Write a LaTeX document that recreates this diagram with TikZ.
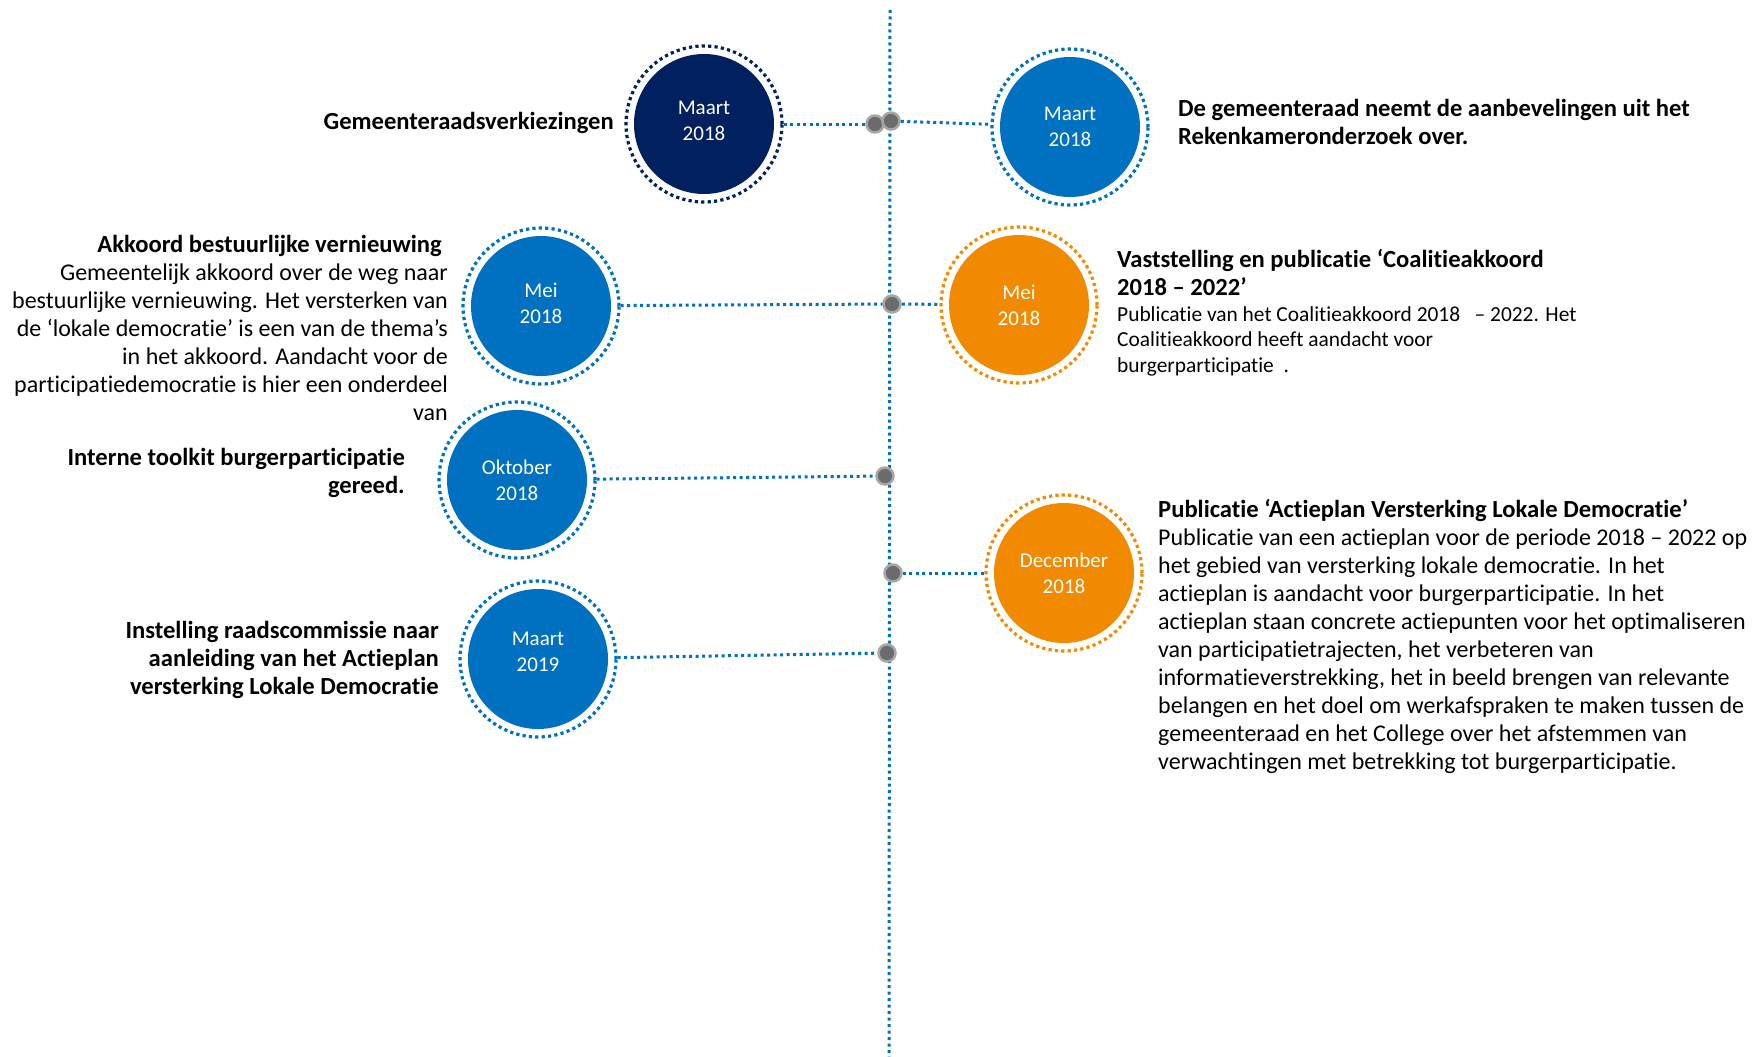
\documentclass[tikz,border=0pt]{standalone}
\usepackage{fontspec}
\setmainfont{Carlito}[Ligatures=NoCommon]
\definecolor{navy}{HTML}{002060}
\definecolor{mblue}{HTML}{0070C0}
\definecolor{morange}{HTML}{F18A00}
\definecolor{knotgray}{HTML}{6B6B6B}
\definecolor{knotring}{HTML}{A6A6A6}
\tikzset{every node/.style={font=\fontsize{24}{28}\selectfont},line join=round}
\tikzset{
  event/.style={circle,draw=#1,line width=3.2,dash pattern=on 3.2 off 3.2,
    minimum size=156,inner sep=0,text=white,align=center,
    font=\fontsize{21}{26}\selectfont,
    path picture={\fill[#1] (path picture bounding box.center) circle (70pt);}},
  knot/.style={circle,fill=knotgray,draw=knotring,line width=2.5,minimum size=17,inner sep=0},
  link/.style={draw=mblue,line width=3,dash pattern=on 3 off 3.5},
  heading/.style={font=\bfseries\fontsize{24.6}{28}\selectfont,inner sep=0},
  body/.style={font=\fontsize{24}{28}\selectfont,inner sep=0},
  smallbody/.style={font=\fontsize{21.4}{25.5}\selectfont,inner sep=0}
}

\begin{document}
\begin{tikzpicture}[x=1pt,y=-1pt]
  \path[use as bounding box] (0,0) rectangle (1756,1057);
  % timeline
  \coordinate (top) at (890,10);
  \coordinate (bot) at (889,1057);
  \draw[link] (top) -- (bot);

  % events
  \node[event=navy,text depth=6pt] (mar18a) at (704,124) {Maart\\2018};
  \node[event=mblue] (mar18b) at (1070,127) {Maart\\2018};
  \node[event=mblue,text depth=6pt] (mei18a) at (541,306) {Mei\\2018};
  \node[event=morange] (mei18b) at (1019,305) {Mei\\2018};
  \node[event=mblue] (okt18) at (517,480) {Oktober\\2018};
  \node[event=morange] (dec18) at (1064,573) {December\\2018};
  \node[event=mblue,text depth=15pt] (mar19) at (538,659) {Maart\\2019};

  % knots on the timeline
  \node[knot] (k1a) at (875,124) {};
  \node[knot] (k1b) at (891,121) {};
  \node[knot] (k2) at (892,304) {};
  \node[knot] (k3) at (885,476) {};
  \node[knot] (k4) at (893,573) {};
  \node[knot] (k5) at (887,653) {};

  \draw[link] (mar18a) -- (k1a);
  \draw[link] (k1b) -- (mar18b);
  \draw[link] (mei18a) -- (k2);
  \draw[link] (k2) -- (mei18b);
  \draw[link] (okt18) -- (k3);
  \draw[link] (k4) -- (dec18);
  \draw[link] (mar19) -- (k5);

  % texts left
  \node[heading,anchor=east] (verkiezing) at (614,123) {Gemeenteraadsverkiezingen};
  \node[body,anchor=east,align=right] (akkoord) at (448,328)
    {\textbf{\fontsize{24.6}{28}\selectfont Akkoord bestuurlijke vernieuwing}\kern6pt\\
     Gemeentelijk akkoord over de weg naar\\
     bestuurlijke vernieuwing. Het versterken van\\
     de ‘lokale democratie’ is een van de thema’s\\
     in het akkoord. Aandacht voor de\\
     participatiedemocratie is hier een onderdeel\\
     van};
  \node[heading,anchor=east,align=right] (toolkit) at (405,473)
    {Interne toolkit burgerparticipatie\\gereed.};
  \node[heading,anchor=east,align=right] (commissie) at (439,660)
    {Instelling raadscommissie naar\\aanleiding van het Actieplan\\versterking Lokale Democratie};

  % texts right
  \node[heading,anchor=west,align=left] (overname) at (1178,122)
    {De gemeenteraad neemt de aanbevelingen uit het\\Rekenkameronderzoek over.};
  \node[heading,anchor=west,align=left] (coalitie) at (1117,273)
    {Vaststelling en publicatie ‘Coalitieakkoord\\2018 – 2022’};
  \node[smallbody,anchor=west,align=left] (coalitietxt) at (1117,341)
    {Publicatie van het Coalitieakkoord 2018\ \ \ – 2022. Het\\
     Coalitieakkoord heeft aandacht voor\\
     burgerparticipatie\ \ .};
  \node[body,anchor=west,align=left] (actieplan) at (1158,636)
    {\textbf{\fontsize{24.6}{28}\selectfont Publicatie ‘Actieplan Versterking Lokale Democratie’}\\
     Publicatie van een actieplan voor de periode 2018 – 2022 op\\
     het gebied van versterking lokale democratie. In het\\
     actieplan is aandacht voor burgerparticipatie. In het\\
     actieplan staan concrete actiepunten voor het optimaliseren\\
     van participatietrajecten, het verbeteren van\\
     informatieverstrekking, het in beeld brengen van relevante\\
     belangen en het doel om werkafspraken te maken tussen de\\
     gemeenteraad en het College over het afstemmen van\\
     verwachtingen met betrekking tot burgerparticipatie.};
\end{tikzpicture}
\end{document}
